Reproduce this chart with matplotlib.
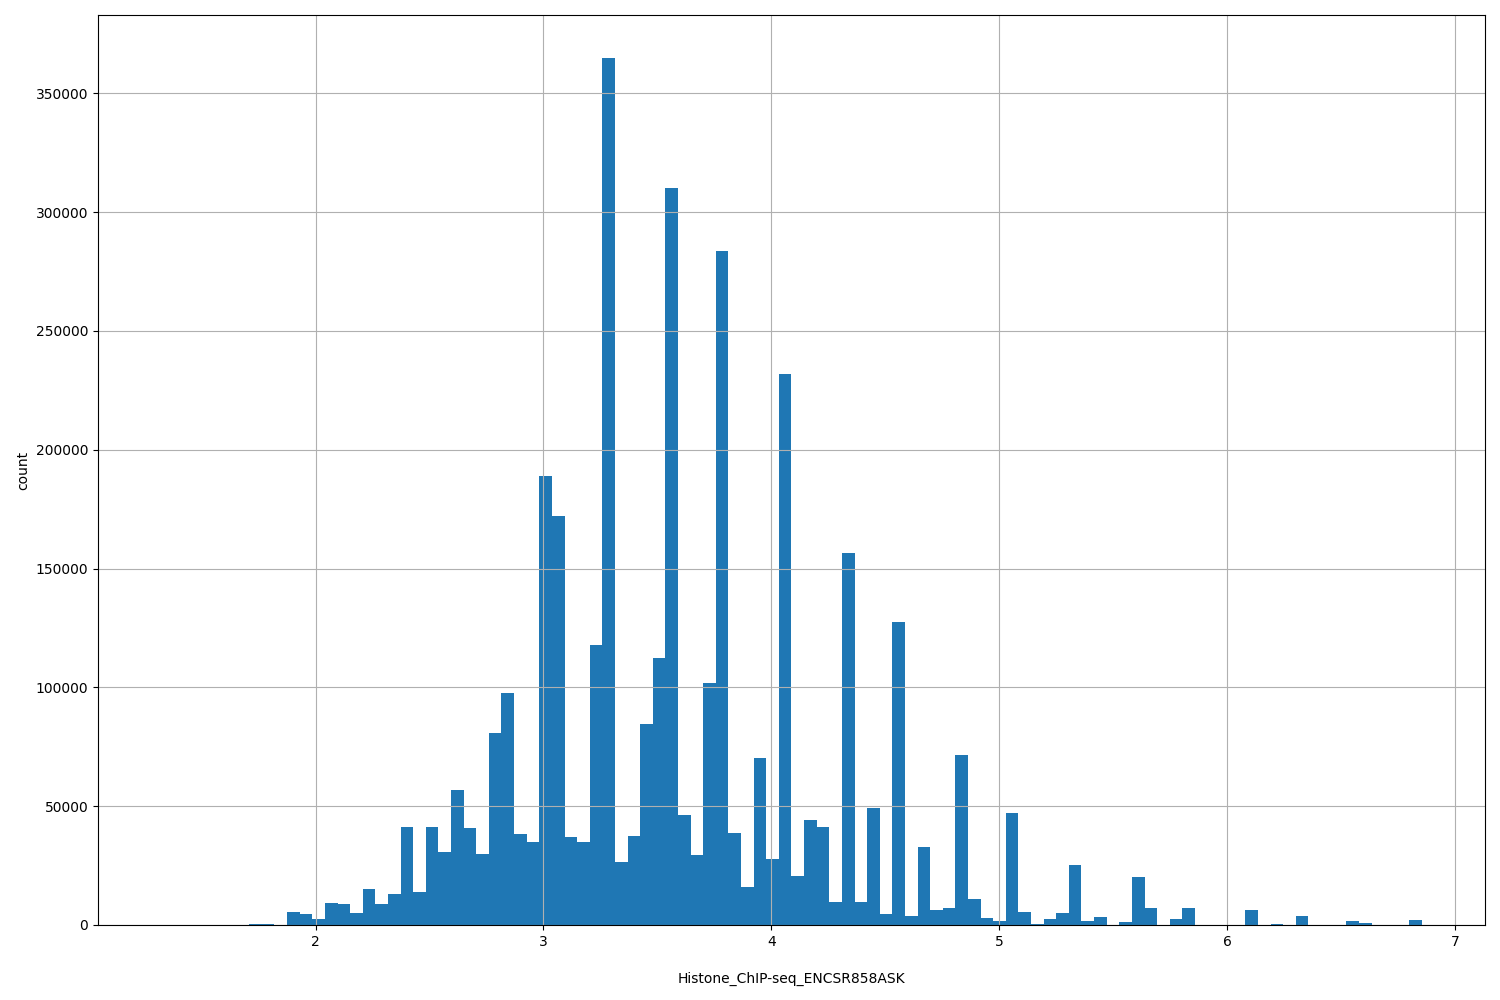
import numpy as np
import matplotlib
matplotlib.use("Agg")
import matplotlib.pyplot as plt

# rango de los bins (100 bins iguales)
bin_min = 1.322
bin_max = 6.855
n_bins = 100

# conteos, uno por bin
conteos = [
    0, 0, 0, 0, 0, 0, 0, 600, 500, 0,
    5500, 4600, 2500, 9300, 8800, 5000, 15100, 8800, 13000, 41200,
    13900, 41200, 30800, 56800, 40800, 30000, 80800, 97600, 38400, 35000,
    188900, 172000, 37000, 35000, 117800, 364700, 26500, 37400, 84600, 112300,
    310000, 46300, 29500, 101800, 283600, 38700, 16000, 70300, 27800, 231800,
    20600, 44200, 41200, 9700, 156500, 9700, 49200, 4600, 127500, 3800,
    32800, 6300, 7200, 71500, 11000, 2900, 1700, 47100, 5500, 500,
    2500, 5000, 25200, 1700, 3400, 0, 1200, 20200, 7200, 0,
    2500, 7200, 0, 0, 0, 0, 6300, 0, 500, 0,
    3800, 0, 0, 0, 1700, 900, 0, 0, 0, 2100,
]

bordes = np.linspace(bin_min, bin_max, n_bins + 1)
centros = (bordes[:-1] + bordes[1:]) / 2

fig, ax = plt.subplots(figsize=(15, 10), dpi=100)
fig.subplots_adjust(left=0.0653, right=0.99, top=0.985, bottom=0.075)

ax.hist(centros, bins=bordes, weights=conteos, color="#1f77b4")
ax.grid(True)
ax.set_xlabel("Histone_ChIP-seq_ENCSR858ASK", labelpad=16.5)
ax.set_ylabel("count")

fig.savefig("out.png")
